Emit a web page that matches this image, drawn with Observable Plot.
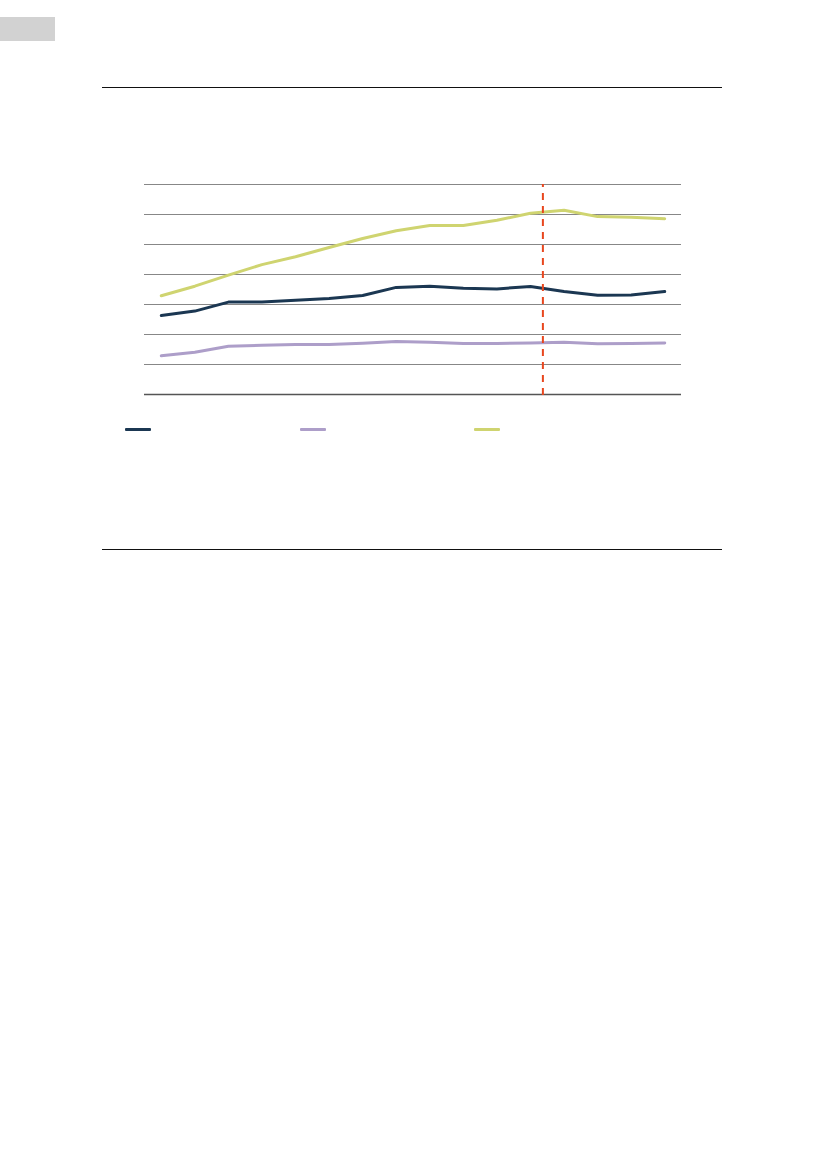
<!DOCTYPE html>
<html>
<head>
<meta charset="utf-8">
<script src="https://cdn.jsdelivr.net/npm/d3@7"></script>
<script src="https://cdn.jsdelivr.net/npm/@observablehq/plot@0.6"></script>
<style>
  html, body { margin: 0; padding: 0; background: #fff; }
  #page { position: relative; width: 827px; height: 1169px; overflow: hidden; font-family: "Liberation Sans", Arial, sans-serif; }
  .abs { position: absolute; }
  #tab { left: 0; top: 17px; width: 55px; height: 24px; background: #d2d2d2; }
  .rule { left: 102px; width: 620px; height: 1px; background: #111; }
  .sw { position: absolute; top: 428px; width: 26px; height: 3px; border-radius: 1px; }
  #chart { left: 0; top: 0; }
</style>
</head>
<body>
<div id="page">
  <div id="tab" class="abs"></div>
  <div class="abs rule" style="top:87px"></div>
  <div id="chart" class="abs"></div>
  <div id="legend"></div>
  <div class="abs rule" style="top:549px"></div>
</div>
<script>
// Data (16 periods, index 0..15); no labels visible in the reference
const periods = d3.range(16);
const seriesNames = ["Series A", "Series B", "Series C"];
const seriesColors = ["#1b3752", "#ad9ec9", "#cfd470"];
const seriesA = [26.3, 27.8, 30.8, 30.8, 31.4, 32.0, 33.0, 35.7, 36.1, 35.4, 35.2, 36.0, 34.3, 33.1, 33.2, 34.3];
const seriesB = [12.9, 14.1, 16.1, 16.4, 16.7, 16.7, 17.1, 17.7, 17.4, 17.0, 17.0, 17.2, 17.4, 16.9, 17.0, 17.2];
const seriesC = [32.9, 36.1, 39.8, 43.3, 45.9, 49.0, 52.0, 54.6, 56.3, 56.3, 58.1, 60.4, 61.4, 59.3, 59.1, 58.6];
const gridTicks = [10, 20, 30, 40, 50, 60, 70];
const yDomain = [0, 70];
const markerX = [11.37]; // dashed red vertical marker

const rows = [];
[seriesA, seriesB, seriesC].forEach((vals, s) => {
  vals.forEach((v, i) => rows.push({ series: seriesNames[s], period: periods[i], value: v }));
});

const chart = Plot.plot({
  width: 827,
  height: 420,
  marginLeft: 144,
  marginRight: 146,
  marginTop: 184,
  marginBottom: 26,
  x: { domain: [-0.5, 15.5], axis: null },
  y: { domain: yDomain, axis: null },
  color: { domain: seriesNames, range: seriesColors },
  marks: [
    Plot.ruleY(gridTicks, { stroke: "#878787", strokeWidth: 1 }),
    Plot.ruleY([0], { stroke: "#555", strokeWidth: 1.3 }),
    Plot.line(rows, { x: "period", y: "value", z: "series", stroke: "series", strokeWidth: 3, curve: "linear", strokeLinejoin: "round" }),
    Plot.ruleX(markerX, { y1: -0.3, y2: 70, stroke: "#e8461e", strokeWidth: 2, strokeDasharray: "7,6" })
  ]
});
document.getElementById("chart").appendChild(chart);

const legendX = [125, 300, 474];
const legend = document.getElementById("legend");
seriesNames.forEach((name, i) => {
  const d = document.createElement("div");
  d.className = "sw";
  d.style.left = legendX[i] + "px";
  d.style.background = seriesColors[i];
  d.title = name;
  legend.appendChild(d);
});
</script>
</body>
</html>
